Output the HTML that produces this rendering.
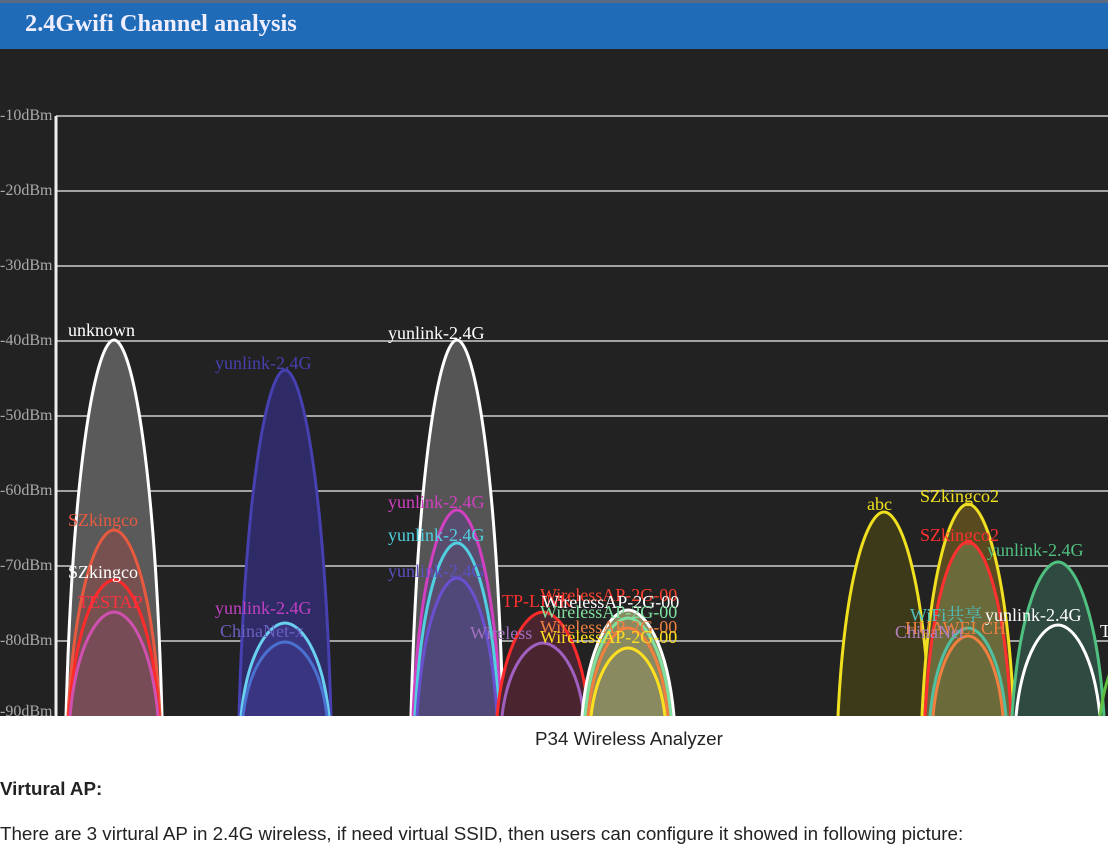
<!DOCTYPE html>
<html><head><meta charset="utf-8"><style>
body{margin:0;width:1108px;height:847px;background:#fff;overflow:hidden;font-family:"Liberation Sans",Arial,sans-serif;}
svg{position:absolute;left:0;top:0}
.t{position:absolute;font-size:18.8px;color:#222;line-height:22px;white-space:nowrap}
</style></head><body>
<svg id="s" width="1108" height="716" viewBox="0 0 1108 716" font-family="Liberation Serif, Noto Serif CJK SC, serif">
<rect x="0" y="0" width="1108" height="716" fill="#222"/>
<rect x="0" y="0" width="1108" height="3" fill="#5a6a80"/>
<rect x="0" y="3" width="1108" height="46" fill="#1f6bb8"/>
<text x="25" y="31" fill="#eef" font-size="24.4" font-weight="bold">2.4Gwifi Channel analysis</text>
<g stroke="#ccc" stroke-width="1.5">
<line x1="56" y1="116" x2="1108" y2="116"/><line x1="56" y1="191" x2="1108" y2="191"/><line x1="56" y1="266" x2="1108" y2="266"/><line x1="56" y1="341" x2="1108" y2="341"/><line x1="56" y1="416" x2="1108" y2="416"/><line x1="56" y1="491" x2="1108" y2="491"/><line x1="56" y1="566" x2="1108" y2="566"/><line x1="56" y1="641" x2="1108" y2="641"/>
</g>
<line x1="56" y1="116" x2="56" y2="716" stroke="#eee" stroke-width="3"/>
<g fill="#aaa" font-size="16">
<text x="0" y="120">-10dBm</text><text x="0" y="195">-20dBm</text><text x="0" y="270">-30dBm</text><text x="0" y="345">-40dBm</text><text x="0" y="420">-50dBm</text><text x="0" y="495">-60dBm</text><text x="0" y="570">-70dBm</text><text x="0" y="645">-80dBm</text><text x="0" y="716">-90dBm</text>
</g>
<g id="arches" stroke-width="3"></g>
<g font-size="18">
<text x="68" y="336" fill="#fff">unknown</text>
<text x="68" y="526" fill="#e85a40">SZkingco</text>
<text x="68" y="578" fill="#fff">SZkingco</text>
<text x="78" y="608" fill="#ff3040">TESTAP</text>
<text x="215" y="369" fill="#4640b0">yunlink-2.4G</text>
<text x="215" y="614" fill="#c040c0">yunlink-2.4G</text>
<text x="220" y="637" fill="#6a60c0">ChinaNet-x</text>
<text x="388" y="339" fill="#fff">yunlink-2.4G</text>
<text x="388" y="508" fill="#d040c0">yunlink-2.4G</text>
<text x="388" y="541" fill="#50d0e0">yunlink-2.4G</text>
<text x="388" y="577" fill="#5a50c0">yunlink-2.4G</text>
<text x="502" y="607" fill="#ff3030">TP-LINK</text>
<text x="470" y="639" fill="#a070c0">Wireless</text>
<text x="540" y="601" fill="#ff4030">WirelessAP-2G-00</text>
<text x="542" y="608" fill="#fff">WirelessAP-2G-00</text>
<text x="540" y="618" fill="#80e0a0">WirelessAP-2G-00</text>
<text x="540" y="633" fill="#f08040">WirelessAP-2G-00</text>
<text x="540" y="643" fill="#ffe020">WirelessAP-2G-00</text>
<text x="867" y="510" fill="#f0e020">abc</text>
<text x="920" y="502" fill="#f0e020">SZkingco2</text>
<text x="920" y="541" fill="#ff3030">SZkingco2</text>
<text x="987" y="556" fill="#50c080">yunlink-2.4G</text>
<text x="910" y="621" fill="#50c0c0">WiFi共享</text>
<text x="985" y="621" fill="#fff">yunlink-2.4G</text>
<text x="905" y="634" fill="#f08040">HUAWEI CH</text>
<text x="895" y="638" fill="#b080c0">ChinaNet</text>
<text x="1100" y="637" fill="#fff">T</text>
</g>
</svg>
<div class="t" style="left:535px;top:728px">P34 Wireless Analyzer</div>
<div class="t" style="left:0;top:778px;font-weight:bold">Virtural AP:</div>
<div class="t" style="left:0;top:823px">There are 3 virtural AP in 2.4G wireless, if need virtual SSID, then users can configure it showed in following picture:</div>
<script>
var A=[
[114,48,340,"#fff","#5a5a5a",1],
[114,46,530,"#e85a40","#8a4a4a",.6],
[114,45,580,"#ff2a2a","none",1],
[114,44,612,"#d050b0","#7a4a5a",.6],
[285,46,370,"#4640b0","#2f2b66",1],
[285,44,623,"#6ad0f0","#3a3580",1],
[285,42,642,"#4a70d0","none",1],
[457,46,340,"#fff","#555",1],
[457,44,510,"#d040c0","#5a4a7a",.7],
[457,42,543,"#50d0e0","none",1],
[457,40,578,"#6a50d0","#4a4680",.6],
[543,46,612,"#ff2a2a","#4a2530",1],
[543,41,643,"#a060c0","none",1],
[628,46,610,"#fff","#8a8a60",1],
[628,43,618,"#80e0a0","none",1],
[628,40,628,"#f08040","none",1],
[628,37,648,"#ffe020","none",1],
[884,46,512,"#f0e020","#3d3a1a",1],
[968,46,504,"#f0e020","#5a4a20",1],
[968,43,542,"#ff3030","#6a6a3a",1],
[968,38,628,"#50c0a0","none",1],
[968,35,636,"#f08040","none",1],
[1058,46,562,"#50c080","#2f4a40",1],
[1058,42,625,"#fff","none",1],
[1150,50,630,"#60c040","none",1]];
var g=document.getElementById("arches"),h="";
A.forEach(function(a){var c=a[0],w=a[1],p=a[2],B=716,q=p+(B-p)*0.3;
var d="M"+(c-w)+","+B+" C"+(c-w*0.85)+","+q+" "+(c-w*0.35)+","+p+" "+c+","+p+" C"+(c+w*0.35)+","+p+" "+(c+w*0.85)+","+q+" "+(c+w)+","+B;
h+='<path d="'+d+'" fill="'+a[4]+'" fill-opacity="'+a[5]+'" stroke="'+a[3]+'"/>';});
g.innerHTML=h;
</script>
</body></html>
